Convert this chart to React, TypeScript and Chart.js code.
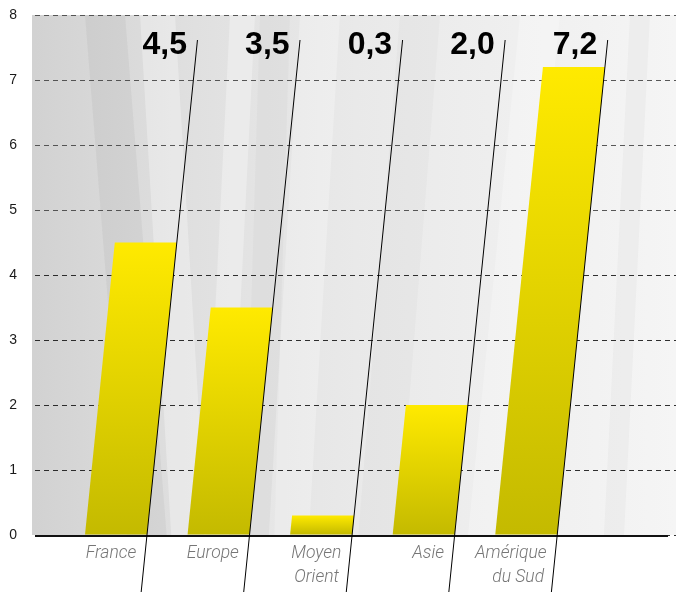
import React, { useEffect, useRef } from "react";
import { Chart, registerables } from "chart.js";

Chart.register(...registerables);

const categories: string[][] = [["France"], ["Europe"], ["Moyen", "Orient"], ["Asie"], ["Amérique", "du Sud"]];
const values: number[] = [4.5, 3.5, 0.3, 2.0, 7.2];
const valueLabels: string[] = ["4,5", "3,5", "0,3", "2,0", "7,2"];
const yMin = 0;
const yMax = 8;
const yStep = 1;

const SLANT = 0.102;

const bgPlugin = {
  id: "texturedBg",
  beforeDraw(chart: any) {
    const { ctx, chartArea: a } = chart;
    ctx.save();
    const g = ctx.createLinearGradient(a.left, 0, a.right, 0);
    g.addColorStop(0, "#d2d2d2");
    g.addColorStop(0.25, "#e0e0e0");
    g.addColorStop(0.5, "#e9e9e9");
    g.addColorStop(0.75, "#efefef");
    g.addColorStop(1, "#f5f5f5");
    ctx.fillStyle = g;
    ctx.fillRect(a.left - 3, a.top, a.right - a.left + 3, a.bottom - a.top);
    ctx.beginPath();
    ctx.rect(a.left - 3, a.top, a.right - a.left + 3, a.bottom - a.top);
    ctx.clip();
    const h = a.bottom - a.top;
    const streaks: [number, number, number, string][] = [
      [85, 125, -0.08, "rgba(120,120,120,0.09)"],
      [140, 175, -0.06, "rgba(255,255,255,0.30)"],
      [230, 255, 0.05, "rgba(255,255,255,0.30)"],
      [260, 290, 0.03, "rgba(160,160,160,0.07)"],
      [300, 340, 0.06, "rgba(255,255,255,0.25)"],
      [400, 440, 0.08, "rgba(160,160,160,0.06)"],
      [520, 560, 0.1, "rgba(255,255,255,0.25)"],
      [630, 650, 0.05, "rgba(160,160,160,0.08)"],
    ];
    for (const [x0, x1, sl, c] of streaks) {
      ctx.beginPath();
      ctx.moveTo(x0, a.top);
      ctx.lineTo(x1, a.top);
      ctx.lineTo(x1 - sl * h, a.bottom);
      ctx.lineTo(x0 - sl * h, a.bottom);
      ctx.closePath();
      ctx.fillStyle = c;
      ctx.fill();
    }
    ctx.restore();
  },
};

const overlayPlugin = {
  id: "slantOverlay",
  afterDatasetsDraw(chart: any) {
    const { ctx, chartArea: a } = chart;
    const meta = chart.getDatasetMeta(0);
    ctx.save();
    const H = chart.height;
    meta.data.forEach((el: any) => {
      const { x, y, base, width } = el.getProps(["x", "y", "base", "width"], true);
      const h = base - y;
      const xl = x - width / 2;
      const xr = x + width / 2;
      const grad = ctx.createLinearGradient(0, y, 0, base);
      grad.addColorStop(0, "#ffea00");
      grad.addColorStop(1, "#c4ba00");
      ctx.beginPath();
      ctx.moveTo(xl, base);
      ctx.lineTo(xr, base);
      ctx.lineTo(xr + SLANT * h, y);
      ctx.lineTo(xl + SLANT * h, y);
      ctx.closePath();
      ctx.fillStyle = grad;
      ctx.fill();
    });
    ctx.strokeStyle = "#111";
    ctx.lineWidth = 2;
    ctx.beginPath();
    ctx.moveTo(a.left, a.bottom + 1);
    ctx.lineTo(668, a.bottom + 1);
    ctx.stroke();

    meta.data.forEach((el: any, i: number) => {
      const { x, base, width } = el.getProps(["x", "base", "width"], true);
      const xr = x + width / 2;
      const lx = (yy: number) => xr + SLANT * (base - yy);
      const topY = 40;
      ctx.strokeStyle = "#000";
      ctx.lineWidth = 1;
      ctx.beginPath();
      ctx.moveTo(lx(topY), topY);
      ctx.lineTo(lx(H), H);
      ctx.stroke();

      ctx.fillStyle = "#000";
      ctx.font = "bold 32px 'Liberation Sans', Arial, sans-serif";
      ctx.textAlign = "right";
      ctx.textBaseline = "alphabetic";
      ctx.fillText(valueLabels[i], lx(54) - 9, 54);

      ctx.fillStyle = "#767676";
      ctx.font = "italic 300 17.5px Roboto, 'Open Sans', sans-serif";
      categories[i].forEach((line, k) => {
        const by = base + 23 + k * 24;
        ctx.fillText(line, lx(by - 6) - 9, by);
      });
    });
    ctx.restore();
  },
};

export default function App() {
  const ref = useRef<HTMLCanvasElement | null>(null);
  useEffect(() => {
    document.body.style.margin = "0";
    if (!ref.current) return;
    const chart = new Chart(ref.current, {
      type: "bar",
      data: {
        datasets: [
          {
            data: values.map((v, i) => ({ x: i, y: v })),
            backgroundColor: "rgba(0,0,0,0)",
            borderWidth: 0,
            barThickness: 62,
          },
        ],
      },
      options: {
        animation: false,
        responsive: false,
        maintainAspectRatio: false,
        layout: { padding: { top: 15, bottom: 57, left: 0, right: 0 } },
        plugins: { legend: { display: false }, tooltip: { enabled: false } },
        scales: {
          x: { type: "linear", min: -0.79, max: 5.46, display: false, offset: false, grid: { offset: false } },
          y: {
            min: yMin,
            max: yMax,
            ticks: {
              stepSize: yStep,
              padding: 18,
              color: "#1a1a1a",
              font: { family: "'Liberation Sans', Arial, sans-serif", size: 14 },
            },
            grid: {
              color: (c: any) => (c.tick && c.tick.value >= 5 ? "rgba(70,70,70,0.9)" : "rgba(25,25,25,0.9)"),
              drawTicks: false,
              lineWidth: 1,
            },
            border: { display: false, dash: [5, 4] },
            afterFit: (s: any) => {
              s.width = 35;
              s.paddingTop = 0;
              s.paddingBottom = 0;
            },
          },
        },
      } as any,
      plugins: [bgPlugin, overlayPlugin],
    });
    return () => chart.destroy();
  }, []);
  return (
    <div style={{ width: 676, height: 592 }}>
      <canvas ref={ref} width={676} height={592} style={{ display: "block", width: 676, height: 592 }} />
    </div>
  );
}
